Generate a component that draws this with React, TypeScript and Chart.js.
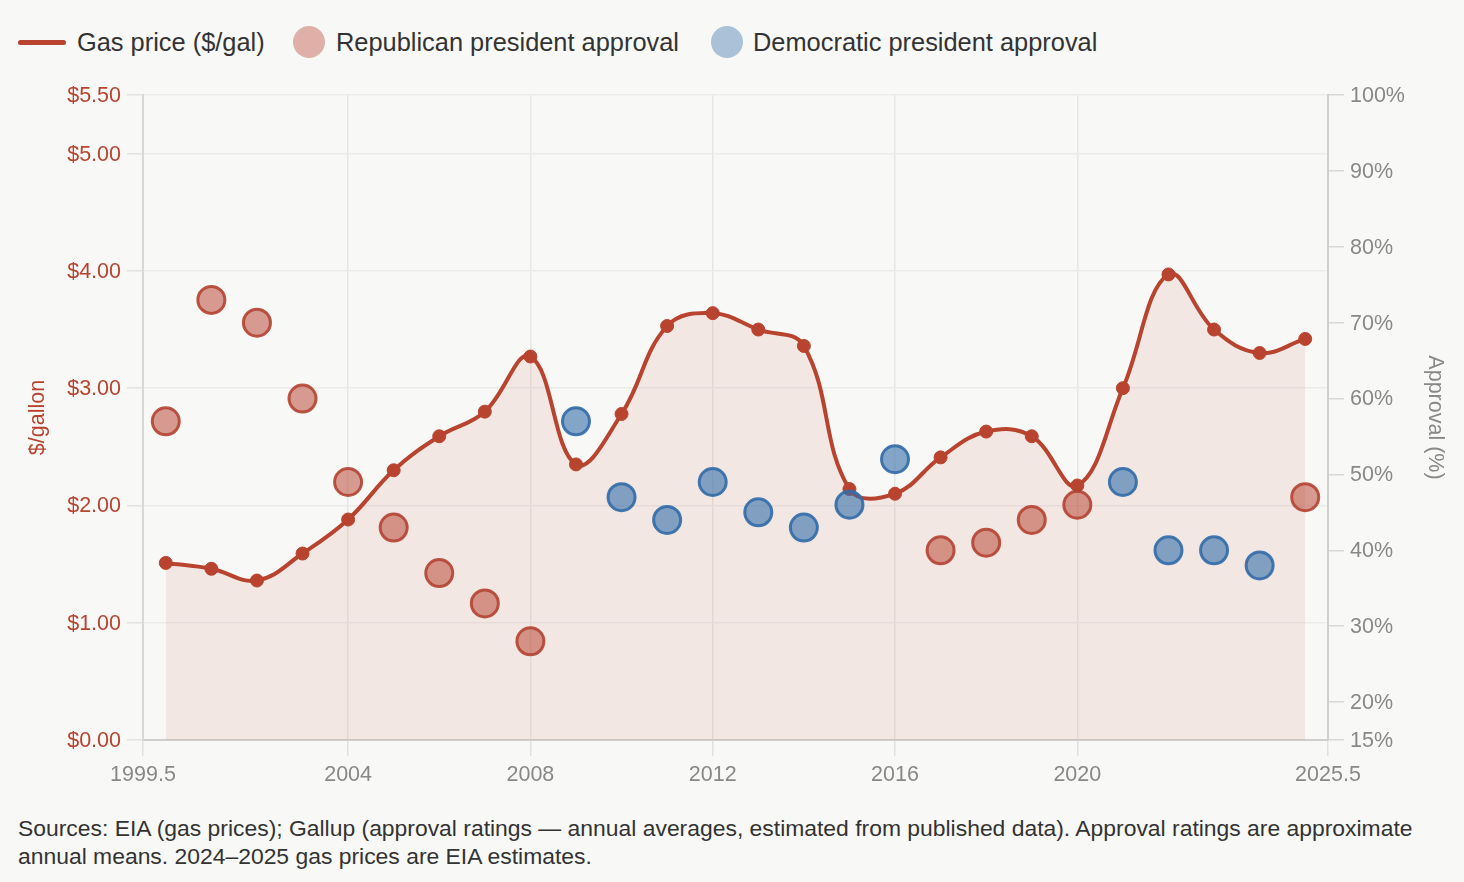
import React, { useEffect, useRef } from "react";
import { Chart, registerables } from "chart.js";

Chart.register(...registerables);

const years = [2000, 2001, 2002, 2003, 2004, 2005, 2006, 2007, 2008, 2009, 2010, 2011, 2012, 2013, 2014, 2015, 2016, 2017, 2018, 2019, 2020, 2021, 2022, 2023, 2024, 2025];
const gasPrices = [1.51, 1.46, 1.36, 1.59, 1.88, 2.30, 2.59, 2.80, 3.27, 2.35, 2.78, 3.53, 3.64, 3.50, 3.36, 2.14, 2.10, 2.41, 2.63, 2.59, 2.17, 3.00, 3.97, 3.50, 3.30, 3.42];
const approval = [57, 73, 70, 60, 49, 43, 37, 33, 28, 57, 47, 44, 49, 45, 43, 46, 52, 40, 41, 44, 46, 49, 40, 40, 38, 47];
const party = ["R", "R", "R", "R", "R", "R", "R", "R", "R", "D", "D", "D", "D", "D", "D", "D", "D", "R", "R", "R", "R", "D", "D", "D", "D", "R"];

const xTicks = [1999.5, 2004, 2008, 2012, 2016, 2020, 2025.5];
const gasTicks = [0, 1, 2, 3, 4, 5, 5.5];
const approvalTicks = [15, 20, 30, 40, 50, 60, 70, 80, 90, 100];

const RED = "#b8432f";
const GRAY = "#888888";
const FONT = "'Liberation Sans', Arial, sans-serif";

export default function App() {
  const canvasRef = useRef<HTMLCanvasElement | null>(null);

  useEffect(() => {
    document.body.style.margin = "0";
    document.body.style.background = "#f8f8f6";
    const canvas = canvasRef.current;
    if (!canvas) return;

    const gasData = years.map((yr, i) => ({ x: yr, y: gasPrices[i] }));
    const repData = years.map((yr, i) => ({ x: yr, y: approval[i] })).filter((_, i) => party[i] === "R");
    const demData = years.map((yr, i) => ({ x: yr, y: approval[i] })).filter((_, i) => party[i] === "D");

    const chart = new Chart(canvas, {
      type: "line",
      data: {
        datasets: [
          {
            label: "Republican president approval",
            type: "scatter",
            data: repData,
            yAxisID: "y1",
            pointRadius: 13.5,
            pointHoverRadius: 13.5,
            pointBorderWidth: 3,
            pointBackgroundColor: "rgba(185,67,49,0.52)",
            pointBorderColor: "rgba(180,66,50,0.9)",
            backgroundColor: "rgba(185,67,49,0.52)",
            borderColor: "rgba(180,66,50,0.9)",
            order: 1,
          } as any,
          {
            label: "Democratic president approval",
            type: "scatter",
            data: demData,
            yAxisID: "y1",
            pointRadius: 13.5,
            pointHoverRadius: 13.5,
            pointBorderWidth: 3,
            pointBackgroundColor: "rgba(52,110,170,0.6)",
            pointBorderColor: "rgba(52,108,168,0.92)",
            backgroundColor: "rgba(52,110,170,0.6)",
            borderColor: "rgba(52,108,168,0.92)",
            order: 0,
          } as any,
          {
            label: "Gas price ($/gal)",
            type: "line",
            data: gasData,
            yAxisID: "y",
            borderColor: RED,
            borderWidth: 4,
            tension: 0.4,
            fill: "origin",
            backgroundColor: "rgba(185,67,49,0.09)",
            pointRadius: 6.5,
            pointBorderWidth: 1,
            pointBackgroundColor: RED,
            pointBorderColor: RED,
            order: 2,
          } as any,
        ],
      },
      options: {
        animation: false,
        responsive: false,
        maintainAspectRatio: false,
        layout: { padding: { top: 95, left: 0, right: 0, bottom: 0 } },
        plugins: {
          legend: { display: false },
          tooltip: { enabled: false },
          filler: { propagate: false },
        },
        scales: {
          x: {
            type: "linear",
            min: 1999.5,
            max: 2025.5,
            afterBuildTicks: (scale: any) => {
              scale.ticks = xTicks.map((v) => ({ value: v }));
            },
            afterFit: (scale: any) => {
              scale.height = 61;
            },
            ticks: {
              color: GRAY,
              font: { family: FONT, size: 21.5 },
              padding: 6,
              maxRotation: 0,
              autoSkip: false,
              callback: (v: any) => String(v),
            },
            grid: {
              color: "#e6e6e4",
              lineWidth: 1.5,
              tickLength: 16,
              tickColor: "#e0e0de",
            },
            border: { color: "#cfcfcd", width: 2 },
          },
          y: {
            type: "linear",
            position: "left",
            min: 0,
            max: 5.5,
            afterBuildTicks: (scale: any) => {
              scale.ticks = gasTicks.map((v) => ({ value: v }));
            },
            afterFit: (scale: any) => {
              scale.width = 143;
            },
            ticks: {
              color: RED,
              font: { family: FONT, size: 21.5 },
              padding: 6,
              autoSkip: false,
              labelOffset: 1,
              callback: (v: any) => "$" + Number(v).toFixed(2),
            },
            grid: {
              color: "#ebebe9",
              lineWidth: 1.5,
              tickLength: 16,
              tickColor: "#e3e3e1",
            },
            border: { color: "#d8d8d6", width: 2 },
            title: {
              display: true,
              text: "$/gallon",
              color: RED,
              font: { family: FONT, size: 21.5 },
              padding: { top: 25, bottom: 0 },
            },
          },
          y1: {
            type: "linear",
            position: "right",
            min: 15,
            max: 100,
            afterBuildTicks: (scale: any) => {
              scale.ticks = approvalTicks.map((v) => ({ value: v }));
            },
            afterFit: (scale: any) => {
              scale.width = 136;
            },
            ticks: {
              color: GRAY,
              font: { family: FONT, size: 21.5 },
              padding: 6,
              autoSkip: false,
              labelOffset: 1,
              callback: (v: any) => v + "%",
            },
            grid: {
              drawOnChartArea: false,
              tickLength: 16,
              tickColor: "#d8d8d6",
              lineWidth: 1.5,
            },
            border: { color: "#cfcfcd", width: 2 },
            title: {
              display: true,
              text: "Approval (%)",
              color: GRAY,
              font: { family: FONT, size: 21.5 },
              padding: { top: 16, bottom: 0 },
            },
          },
        },
      } as any,
    });

    return () => {
      chart.destroy();
    };
  }, []);

  const textStyle: React.CSSProperties = {
    position: "absolute",
    top: 27,
    height: 30,
    lineHeight: "30px",
    fontSize: 25.4,
    fontFamily: FONT,
    color: "#333333",
    whiteSpace: "nowrap",
  };

  return (
    <div style={{ position: "relative", width: 1464, height: 882, background: "#f8f8f6", overflow: "hidden" }}>
      <div style={{ position: "absolute", left: 18, top: 39.5, width: 48, height: 5, borderRadius: 3, background: RED }} />
      <div style={{ ...textStyle, left: 77 }}>Gas price ($/gal)</div>
      <div style={{ position: "absolute", left: 293, top: 26, width: 32, height: 32, borderRadius: "50%", background: "rgba(185,67,49,0.4)" }} />
      <div style={{ ...textStyle, left: 336 }}>Republican president approval</div>
      <div style={{ position: "absolute", left: 711, top: 26, width: 32, height: 32, borderRadius: "50%", background: "rgba(52,110,170,0.4)" }} />
      <div style={{ ...textStyle, left: 753 }}>Democratic president approval</div>
      <canvas ref={canvasRef} width={1464} height={801} style={{ position: "absolute", left: 0, top: 0, width: 1464, height: 801 }} />
      <div
        style={{
          position: "absolute",
          left: 18,
          top: 814,
          fontSize: 22.9,
          lineHeight: "28px",
          fontFamily: FONT,
          color: "#333333",
          whiteSpace: "nowrap",
        }}
      >
        Sources: EIA (gas prices); Gallup (approval ratings — annual averages, estimated from published data). Approval ratings are approximate
        <br />
        annual means. 2024–2025 gas prices are EIA estimates.
      </div>
    </div>
  );
}
